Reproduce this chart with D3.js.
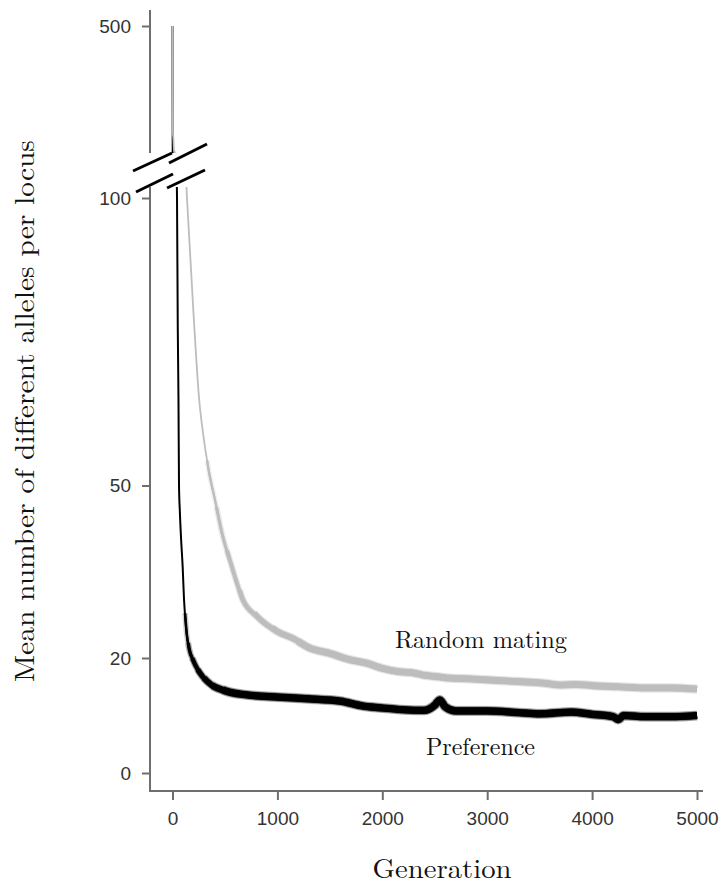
<!DOCTYPE html>
<html><head><meta charset="utf-8">
<script src="https://cdn.jsdelivr.net/npm/d3@7"></script>
<style>body{margin:0;background:#fff} svg{display:block}</style>
</head><body><svg id="c" width="721" height="885"></svg>
<script>
// ---- data ----
const randomGen = [0,4,8,14,130,138,200,254,292,338,405,472,567,671,814,1000,1150,1300,1500,1690,1850,2000,2167,2300,2400,2550,2643,2800,3000,3200,3400,3550,3690,3850,4000,4250,4500,4750,5000];
const randomVal = [500,200,190,155,103,100,80,65,59,53.4,47.5,41.7,35.8,30.1,27.1,24.6,23.4,21.8,20.8,19.7,19.1,18.2,17.6,17.4,17,16.7,16.5,16.4,16.2,16,15.8,15.6,15.3,15.4,15.2,15,14.8,14.8,14.6];
const prefGen = [0,2,40,43,50,57,62,70,81,97,110,135,160,197,240,290,380,519,700,1000,1300,1600,1800,2000,2200,2400,2500,2548,2600,2700,3000,3300,3500,3800,4000,4200,4250,4300,4500,4800,5000];
const prefVal = [500,150,104,100,78,65,50,45.5,41,35.8,30.1,24.3,21.5,19.6,18,16.7,15.2,14.2,13.6,13.2,12.9,12.5,11.7,11.3,11,10.9,11.8,12.7,11.5,10.8,10.8,10.5,10.3,10.6,10.2,9.8,9.3,10,9.8,9.8,10];
const xTicks = [0,1000,2000,3000,4000,5000];
const yTicksLow = [0,20,50,100];
const yTicksHigh = [500];
const seriesNames = ["Random mating","Preference"];
const xTitle = "Generation";
const yTitle = "Mean number of different alleles per locus";

// ---- layout ----
const svg = d3.select("#c");
const axisX = 150, axisY = 791;
const lowTop = 187, highBottom = 153, highTop = 10;
const x = d3.scaleLinear().domain([0,5000]).range([172.5,697]);
const yLow = d3.scaleLinear().domain([0,100]).range([773,198]);
const yHigh = d3.scaleLinear().domain([100,500]).range([170,26]);
const axisColor = "#6e6e6e", tickText = "#333";

const defs = svg.append("defs");
defs.append("clipPath").attr("id","clipLow").append("rect")
  .attr("x",axisX+1).attr("y",lowTop).attr("width",721-axisX).attr("height",axisY-lowTop-1);
defs.append("clipPath").attr("id","clipHigh").append("rect")
  .attr("x",axisX+1).attr("y",0).attr("width",721-axisX).attr("height",highBottom);

function series(gens, vals){ return gens.map((g,i)=>({g, v: vals[i]})); }
const randomData = series(randomGen, randomVal);
const prefData = series(prefGen, prefVal);

function interp(data, gx){
  for (let i=1;i<data.length;i++){
    if (data[i].g >= gx){
      const a=data[i-1], b=data[i];
      return a.v + (b.v-a.v)*(gx-a.g)/(b.g-a.g);
    }
  }
  return data[data.length-1].v;
}
// thin line for the whole series, gradually widening band where the simulation noise thickens the trace
function drawSeries(data, color, thin, layers){
  [["clipLow", yLow], ["clipHigh", yHigh]].forEach(([clip, ys])=>{
    const g = svg.append("g").attr("clip-path", `url(#${clip})`);
    const line = d3.line().x(d=>x(d.g)).y(d=>ys(d.v)).curve(d3.curveMonotoneX);
    g.append("path").datum(data).attr("d", line).attr("fill","none")
      .attr("stroke", color).attr("stroke-width", thin);
    layers.forEach(([from, w])=>{
      const i0 = data.findIndex(d=>d.g > from);
      const band = [{g: from, v: interp(data, from)}].concat(data.slice(i0));
      g.append("path").datum(band).attr("d", line).attr("fill","none")
        .attr("stroke", color).attr("stroke-width", w+3).attr("stroke-opacity",0.18)
        .attr("stroke-linecap","butt").attr("stroke-linejoin","round");
      g.append("path").datum(band).attr("d", line).attr("fill","none")
        .attr("stroke", color).attr("stroke-width", w)
        .attr("stroke-linecap","butt").attr("stroke-linejoin","round");
    });
  });
}
drawSeries(prefData, "#000", 2, [[120,2.6],[150,3.3],[190,4.2],[240,5],[300,5.8],[380,6.5],[480,7.2]]);
drawSeries(randomData, "#bdbdbd", 1.8, [[330,2.4],[420,3],[520,3.7],[640,4.5],[780,5.3],[950,6],[1200,6.6]]);

// ---- axes ----
const fontSans = "'Liberation Sans', Arial, Helvetica, sans-serif";
function styleAxis(g){
  g.select(".domain").remove();
  g.selectAll(".tick line").attr("stroke", axisColor).attr("stroke-width", 2);
  g.selectAll(".tick text").attr("fill", tickText).style("font-family", fontSans).style("font-size","19px");
}
svg.append("g").attr("transform",`translate(${axisX},0)`)
  .call(d3.axisLeft(yLow).tickValues(yTicksLow).tickSize(8).tickPadding(11).tickFormat(d3.format("d")))
  .call(styleAxis);
svg.append("g").attr("transform",`translate(${axisX},0)`)
  .call(d3.axisLeft(yHigh).tickValues(yTicksHigh).tickSize(8).tickPadding(11).tickFormat(d3.format("d")))
  .call(styleAxis);
svg.append("g").attr("transform",`translate(0,${axisY})`)
  .call(d3.axisBottom(x).tickValues(xTicks).tickSize(9).tickPadding(12).tickFormat(d3.format("d")))
  .call(styleAxis);

// axis lines (broken y axis)
svg.append("line").attr("x1",axisX).attr("x2",axisX).attr("y1",highTop).attr("y2",highBottom)
  .attr("stroke",axisColor).attr("stroke-width",2);
svg.append("path").attr("d",`M${axisX},${lowTop}V${axisY}H703`)
  .attr("fill","none").attr("stroke",axisColor).attr("stroke-width",2);

// break marks
const brk = svg.append("g").attr("stroke","#000").attr("stroke-width",3).attr("stroke-linecap","butt");
[[axisX-17, 171, axisX+22, 153],[axisX-14, 192, axisX+23, 174],
 [axisX+19, 163, axisX+57, 144],[axisX+17, 188, axisX+55, 170]].forEach(s=>{
  brk.append("line").attr("x1",s[0]).attr("y1",s[1]).attr("x2",s[2]).attr("y2",s[3]);
});

// ---- text ----
const fontSerif = "'Latin Modern Roman','CMU Serif','Liberation Serif','Times New Roman',serif";
function fitText(sel, w){ sel.attr("textLength", w).attr("lengthAdjust","spacingAndGlyphs"); return sel; }
fitText(svg.append("text").attr("x",442).attr("y",878).attr("text-anchor","middle")
  .style("font-family",fontSerif).style("font-size","27px").attr("fill","#111").text(xTitle), 139);
fitText(svg.append("text").attr("transform","translate(34,411) rotate(-90)").attr("text-anchor","middle")
  .style("font-family",fontSerif).style("font-size","27px").attr("fill","#111").text(yTitle), 542);
fitText(svg.append("text").attr("x",395).attr("y",648)
  .style("font-family",fontSerif).style("font-size","24px").attr("fill","#111").text(seriesNames[0]), 172);
fitText(svg.append("text").attr("x",426).attr("y",755)
  .style("font-family",fontSerif).style("font-size","24px").attr("fill","#111").text(seriesNames[1]), 109);
</script></body></html>
